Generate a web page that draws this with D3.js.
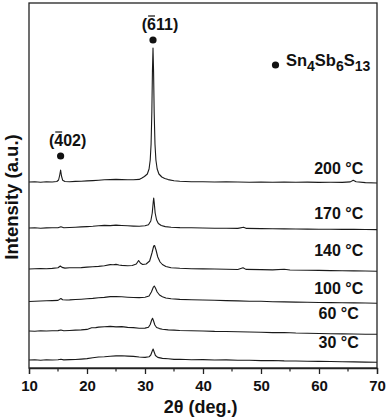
<!DOCTYPE html>
<html>
<head>
<meta charset="utf-8">
<script src="https://cdn.jsdelivr.net/npm/d3@7"></script>
<style>
  body { margin: 0; background: #fff; }
  svg text { font-family: "Liberation Sans", Arial, sans-serif; font-weight: bold; fill: #111; }
</style>
</head>
<body>
<svg id="chart" width="387" height="420"></svg>
<script>
// temperatures, vertical offsets (a.u.) and traces [2theta, intensity above baseline]
const temps = ["30 °C", "60 °C", "100 °C", "140 °C", "170 °C", "200 °C"];
const offsets = [8, 37, 68, 99, 140, 186];
const labelY = [20, 49, 74, 112, 149, 194];

const trace30 = [[10,0],[11,0.3],[12,-0.2],[13,0.2],[14,0],[15,0.3],[15.5,0.8],[16,0.1],[17,0.4],[18,0.5],[19,0.9],[20,1.4],[21,2.2],[22,3],[23,3.3],[24,3.8],[25,4.1],[26,4.3],[27,3.9],[28,3.6],[29,3],[30,2.6],[30.7,3.2],[31.0,5],[31.25,9],[31.4,11],[31.55,8.5],[31.8,4.5],[32.2,2.6],[33,1.6],[34,1.2],[35,0.6],[36,0.8],[38,0.3],[40,0.4],[42,0],[44,0.1],[46,-0.3],[48,-0.2],[50,-0.6],[52,-0.5],[54,-0.9],[56,-1],[58,-1.2],[60,-1.4],[62,-1.5],[64,-1.8],[66,-1.9],[68,-2.1],[70,-2.3]];
const trace60 = [[10,0],[11,-0.3],[12,0.2],[13,0],[14,0.3],[15,0.4],[15.5,1],[16,0.2],[17,0.5],[18,0.9],[19,1.1],[20,1.6],[20.8,3.2],[21.5,3.4],[22,3.9],[23,4.2],[24,4.6],[25,4.1],[26,4.4],[27,3.6],[28,3.4],[29,2.8],[30,2.9],[30.6,3.8],[30.9,6.5],[31.15,11],[31.3,12.7],[31.45,10.5],[31.7,6],[32,3.5],[32.5,2.4],[33,1.8],[34,1.1],[35,0.9],[36,0.5],[38,0.2],[40,0],[42,-0.4],[44,-0.5],[46,-0.8],[48,-1],[50,-1.2],[52,-1.6],[54,-1.5],[56,-2],[58,-2.2],[60,-2.5],[62,-2.7],[64,-2.9],[66,-3],[68,-3.2],[70,-3.3]];
const trace100 = [[10,-1.5],[11,-1.2],[12,-1],[13,-0.8],[14,-0.6],[15,-0.4],[15.5,1.5],[15.8,0.2],[16.5,0],[17,0.1],[18,0.5],[19,0.8],[20,1.2],[21,1.6],[22,2.2],[23,2.6],[24,3.4],[25,3.5],[26,3.2],[27,2.8],[28,2.5],[29,2.4],[30,2.8],[30.7,4],[31.1,8],[31.45,13],[31.6,14],[31.8,12],[32.1,8],[32.5,5],[33,3.3],[33.6,2],[34.5,1.2],[36,0.6],[38,0.2],[40,0],[42,-0.3],[44,-0.6],[46,-0.9],[48,-1.2],[50,-1.3],[52,-1.7],[54,-1.9],[56,-2.1],[58,-2.3],[60,-2.5],[62,-2.6],[64,-2.8],[66,-2.9],[68,-3],[70,-3.2]];
const trace140 = [[10,0],[11,0.2],[12,0.5],[13,0.3],[14,0.6],[15,1.2],[15.4,3],[15.7,1.6],[16.2,0.9],[17,1.2],[18,1.3],[19,1.4],[20,1.9],[21,2.3],[22,2.6],[23,3.3],[24,4.4],[24.5,4.2],[25,4.6],[25.5,4],[26,3.6],[27,3.2],[27.8,3.5],[28.5,5],[28.9,8.5],[29.2,6],[29.6,4.5],[30.2,5],[30.8,8],[31.2,16],[31.5,23],[31.65,23.5],[31.9,19],[32.2,12],[32.6,7],[33,4.5],[33.6,2.5],[34.5,1.3],[36,0.7],[38,0.3],[40,0.1],[42,0],[44,-0.2],[46,-0.5],[46.9,1.3],[47.4,-0.4],[50,-0.6],[52,-0.9],[54,-0.2],[55,-1],[58,-1.3],[60,-1.4],[62,-1.6],[64,-1.7],[66,-1.9],[68,-2],[70,-2.2]];
const trace170 = [[10,0],[11,0.2],[12,-0.2],[13,0.1],[14,0.2],[15,0.3],[15.5,1.2],[16,0.3],[17,0.5],[18,0.8],[19,1.1],[20,1.4],[21,1.7],[22,2.2],[23,2.6],[24,2.4],[25,2.9],[26,2.5],[27,2.2],[28,1.9],[29,1.7],[30,2.2],[30.6,3.3],[31.0,7],[31.25,15],[31.42,26],[31.5,30],[31.58,26],[31.75,15],[32.0,8],[32.3,4.5],[32.8,2.5],[33.5,1.4],[34.5,0.8],[36,0.4],[38,0.2],[40,0],[42,-0.2],[44,-0.2],[46,-0.4],[47,0.8],[47.5,-0.4],[50,-0.6],[52,-0.8],[54,-0.9],[56,-1],[58,-1.1],[60,-1.2],[62,-1.3],[64,-1.4],[66,-1.4],[68,-1.5],[70,-1.6]];
const trace200 = [[10,0],[11,0.3],[12,-0.2],[13,0.2],[14,0],[14.8,0.5],[15.1,2],[15.3,7],[15.45,12],[15.6,6],[15.8,1.8],[16.2,0.5],[17,0.2],[18,0.6],[19,0.8],[20,1.1],[21,1.4],[22,1.8],[23,2.2],[24,2.4],[25,2.6],[26,2.4],[27,2.3],[28,2.2],[29,2.6],[29.4,3.8],[29.9,5.5],[30.4,8],[30.7,13],[30.9,22],[31.05,38],[31.18,70],[31.28,110],[31.38,134],[31.48,110],[31.58,70],[31.72,38],[31.88,22],[32.1,13],[32.4,8],[32.9,5],[33.4,3.6],[34,2.4],[35,1.3],[36,0.7],[38,0.3],[40,0.2],[42,0],[44,0.2],[46,0],[48,-0.2],[50,0],[52,-0.3],[54,0],[56,-0.3],[58,-0.1],[60,-0.4],[62,-0.3],[64,-0.4],[65.4,0.1],[65.9,1.8],[66.4,0.3],[68,-0.6],[70,-1]];
const traces = [trace30, trace60, trace100, trace140, trace170, trace200];

// peak markers: [2theta, height] and labels
const peakNames = ["402", "611"];
const peakPos = [[15.45, 212], [31.38, 328]];

const xTicks = [10, 20, 30, 40, 50, 60, 70];
const xMinor = [15, 25, 35, 45, 55, 65];

const margin = {top: 3, right: 10, bottom: 52, left: 29},
      width = 387 - margin.left - margin.right,
      height = 420 - margin.top - margin.bottom;

const svg = d3.select("#chart")
  .append("g")
    .attr("transform", `translate(${margin.left},${margin.top})`);

const x = d3.scaleLinear().domain([10, 70]).range([0, width]);
const y = d3.scaleLinear().domain([0, height]).range([height, 0]);

const line = d3.line()
    .x(d => x(d[0]))
    .y(d => y(d[1]));

traces.forEach((t, i) => {
  svg.append("path")
      .datum(t.map(d => [d[0], d[1] + offsets[i]]))
      .attr("fill", "none")
      .attr("stroke", "#1a1a1a")
      .attr("stroke-width", 1.1)
      .attr("stroke-linejoin", "round")
      .attr("d", line);

  svg.append("text")
      .attr("x", x(63.4))
      .attr("y", y(labelY[i]))
      .attr("text-anchor", "middle")
      .style("font-size", "16px")
      .text(temps[i]);
});

// frame
svg.append("rect")
    .attr("width", width)
    .attr("height", height)
    .attr("fill", "none")
    .attr("stroke", "#222")
    .attr("stroke-width", 1.3);

// X axis
const xAxis = svg.append("g")
    .attr("transform", `translate(0,${height})`)
    .call(d3.axisBottom(x).tickValues(xTicks).tickSize(6).tickPadding(6));
xAxis.select(".domain").attr("stroke", "#222").attr("stroke-width", 1.3);
xAxis.selectAll(".tick line").attr("stroke", "#222").attr("stroke-width", 1.3);
xAxis.selectAll("text").style("font-size", "15px").attr("fill", "#111");

svg.append("g")
    .attr("transform", `translate(0,${height})`)
  .selectAll("line")
  .data(xMinor)
  .join("line")
    .attr("x1", d => x(d)).attr("x2", d => x(d))
    .attr("y1", 0).attr("y2", 3.5)
    .attr("stroke", "#222")
    .attr("stroke-width", 1.2);

svg.append("text")
    .attr("x", x(39.6))
    .attr("y", height + 45)
    .attr("text-anchor", "middle")
    .style("font-size", "18px")
    .text("2θ (deg.)");

svg.append("text")
    .attr("transform", `translate(${-11},${y(171)}) rotate(-90)`)
    .attr("text-anchor", "middle")
    .style("font-size", "18.5px")
    .text("Intensity (a.u.)");

// peak markers
peakPos.forEach((p, i) => {
  svg.append("circle")
      .attr("cx", x(p[0]))
      .attr("cy", y(p[1]))
      .attr("r", 3.6)
      .attr("fill", "#111");

  const lbl = svg.append("text")
      .attr("x", x(p[0]) + 7)
      .attr("y", y(p[1]) - 10)
      .attr("text-anchor", "middle")
      .style("font-size", "16px")
      .text(`(${peakNames[i]})`);

  // overbar on the first index
  const node = lbl.node();
  const s = node.getStartPositionOfChar(1);
  const w = node.getSubStringLength(1, 1);
  svg.append("line")
      .attr("x1", s.x + 1).attr("x2", s.x + w - 1)
      .attr("y1", s.y - 14).attr("y2", s.y - 14)
      .attr("stroke", "#111")
      .attr("stroke-width", 1.2);
});

// legend
svg.append("circle")
    .attr("cx", x(52.5))
    .attr("cy", y(303))
    .attr("r", 3.6)
    .attr("fill", "#111");

const leg = svg.append("text")
    .attr("x", x(54.3))
    .attr("y", y(303) + 6)
    .style("font-size", "16.5px");
const chem = [["Sn", false], ["4", true], ["Sb", false], ["6", true], ["S", false], ["13", true]];
chem.forEach(c => {
  leg.append("tspan")
      .attr("dy", c[1] ? 5 : (leg.selectAll("tspan").size() > 0 ? -5 : 0))
      .style("font-size", c[1] ? "14px" : "16.5px")
      .text(c[0]);
});
</script>
</body>
</html>
